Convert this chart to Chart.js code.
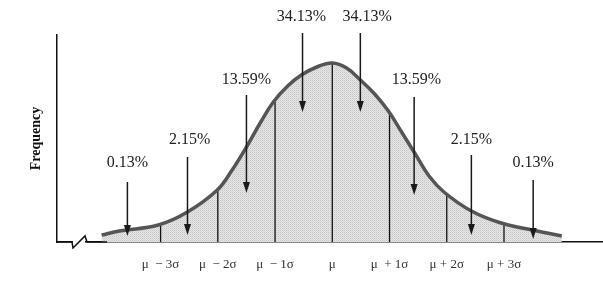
<!DOCTYPE html>
<html>
<head>
<meta charset="utf-8">
<script src="https://cdn.jsdelivr.net/npm/chart.js@4"></script>
<style>
  html, body { margin: 0; padding: 0; background: #fff; }
  #wrap { width: 603px; height: 283px; position: relative; }
</style>
</head>
<body>
<div id="wrap"><canvas id="normalChart"></canvas></div>
<script>
// curve: x in sigma units, height in frequency units
const curveX = [-4.03, -3.72, -3.04, -2.53, -2.01, -1.75, -1.50, -1.25, -1.03, -0.78, -0.54, -0.27, 0, 0.25, 0.49, 0.74, 0.98, 1.20, 1.45, 1.69, 1.95, 2.43, 2.95, 3.49, 4.01];
const curveY = [7, 11, 17, 30, 52, 72, 95, 120, 140, 156, 167, 175, 179, 174, 162, 148, 131, 111, 88, 66, 50, 31, 19, 12, 6];

// vertical lines at each sigma step
const sigmaTicks = [-3, -2, -1, 0, 1, 2, 3];
const sigmaHeights = [16, 51, 140, 178, 129, 49, 18];
const tickLabels = ['\u03bc  \u2212 3\u03c3', '\u03bc  \u2212 2\u03c3', '\u03bc  \u2212 1\u03c3', '\u03bc', '\u03bc  + 1\u03c3', '\u03bc + 2\u03c3', '\u03bc + 3\u03c3'];

// arrows with their percentages
const pctLabels = ['0.13%', '2.15%', '13.59%', '34.13%', '34.13%', '13.59%', '2.15%', '0.13%'];
const arrowX = [-3.58, -2.53, -1.50, -0.52, 0.49, 1.43, 2.43, 3.51];
const arrowTop = [60, 85, 147, 209, 209, 145, 87, 62];
const arrowTip = [6, 7, 49, 130, 130, 47, 7, 3];
const labelX = [-3.58, -2.49, -1.50, -0.54, 0.61, 1.47, 2.43, 3.51];
const labelY = [79, 102, 162, 225, 225, 162, 102, 79];

const serif = '"Liberation Serif", "Times New Roman", serif';

// stippled gray fill
function stipple(){
  const c = document.createElement('canvas');
  c.width = 2; c.height = 2;
  const g = c.getContext('2d');
  g.fillStyle = '#e6e6e6'; g.fillRect(0, 0, 2, 2);
  g.fillStyle = '#c6c6c6'; g.fillRect(0, 0, 1, 1);
  g.fillStyle = '#d6d6d6'; g.fillRect(1, 1, 1, 1);
  return g.createPattern(c, 'repeat');
}

const arrowsPlugin = {
  id: 'arrows',
  afterDraw(chart){
    const ctx = chart.ctx;
    const xs = chart.scales.x, ys = chart.scales.y;
    ctx.save();
    // axis break mark
    const by = ys.getPixelForValue(0);
    const bx = chart.chartArea.left;
    ctx.fillStyle = '#fff';
    ctx.fillRect(bx + 16, by - 3, 12, 6);
    ctx.strokeStyle = '#111';
    ctx.lineWidth = 1.5;
    ctx.beginPath();
    ctx.moveTo(bx, by);
    ctx.lineTo(bx + 15, by);
    ctx.lineTo(bx + 16, by + 6);
    ctx.lineTo(bx + 28, by - 6);
    ctx.lineTo(bx + 30, by);
    ctx.lineTo(bx + 50, by);
    ctx.stroke();

    ctx.strokeStyle = '#1a1a1a';
    ctx.fillStyle = '#1a1a1a';
    ctx.lineWidth = 1.5;
    arrowX.forEach((v, i) => {
      const x = xs.getPixelForValue(v);
      const top = ys.getPixelForValue(arrowTop[i]);
      const tip = ys.getPixelForValue(arrowTip[i]);
      ctx.beginPath();
      ctx.moveTo(x, top);
      ctx.lineTo(x, tip - 8);
      ctx.stroke();
      ctx.beginPath();
      ctx.moveTo(x - 3.5, tip - 11);
      ctx.lineTo(x + 3.5, tip - 11);
      ctx.lineTo(x, tip);
      ctx.closePath();
      ctx.fill();
    });

    ctx.fillStyle = '#222';
    ctx.font = '16px ' + serif;
    ctx.textAlign = 'center';
    ctx.textBaseline = 'middle';
    pctLabels.forEach((t, i) => {
      ctx.fillText(t, xs.getPixelForValue(labelX[i]), ys.getPixelForValue(labelY[i]));
    });
    ctx.restore();
  }
};

const sigmaSets = sigmaTicks.map((v, i) => ({
  data: [{x: v, y: 0}, {x: v, y: sigmaHeights[i]}],
  borderColor: '#111',
  borderWidth: 1.3,
  pointRadius: 0,
  fill: false,
  order: 1
}));

const ctx = document.getElementById('normalChart').getContext('2d');
new Chart(ctx, {
  type: 'line',
  data: {
    datasets: [{
      data: curveX.map((x, i) => ({x, y: curveY[i]})),
      borderColor: '#555',
      borderWidth: 3.5,
      backgroundColor: stipple(),
      fill: 'origin',
      pointRadius: 0,
      tension: 0.4,
      borderCapStyle: 'butt',
      order: 0
    }, ...sigmaSets]
  },
  options: {
    responsive: true,
    maintainAspectRatio: false,
    animation: false,
    layout: { padding: { top: 35, left: 24, right: 0, bottom: 0 } },
    plugins: {
      legend: { display: false },
      tooltip: { enabled: false },
      filler: { drawTime: 'beforeDatasetsDraw' }
    },
    scales: {
      x: {
        type: 'linear',
        min: -4.81, max: 4.73,
        grid: { display: false, drawTicks: false },
        border: { display: true, color: '#111', width: 1.5 },
        afterBuildTicks: s => { s.ticks = sigmaTicks.map(v => ({value: v})); },
        afterFit: s => { s.height = 41; },
        ticks: {
          autoSkip: false,
          maxRotation: 0,
          padding: 15,
          color: '#333',
          font: { family: serif, size: 13 },
          callback: (v) => tickLabels[sigmaTicks.indexOf(v)]
        }
      },
      y: {
        min: 0, max: 207,
        grid: { display: false, drawTicks: false },
        border: { display: true, color: '#111', width: 1.5 },
        ticks: { display: false },
        afterFit: s => { s.width = 33; },
        title: {
          display: true,
          text: 'Frequency',
          color: '#111',
          padding: { top: 4, bottom: 0 },
          font: { family: serif, size: 14, weight: 'bold' }
        }
      }
    }
  },
  plugins: [arrowsPlugin]
});
</script>
</body>
</html>
